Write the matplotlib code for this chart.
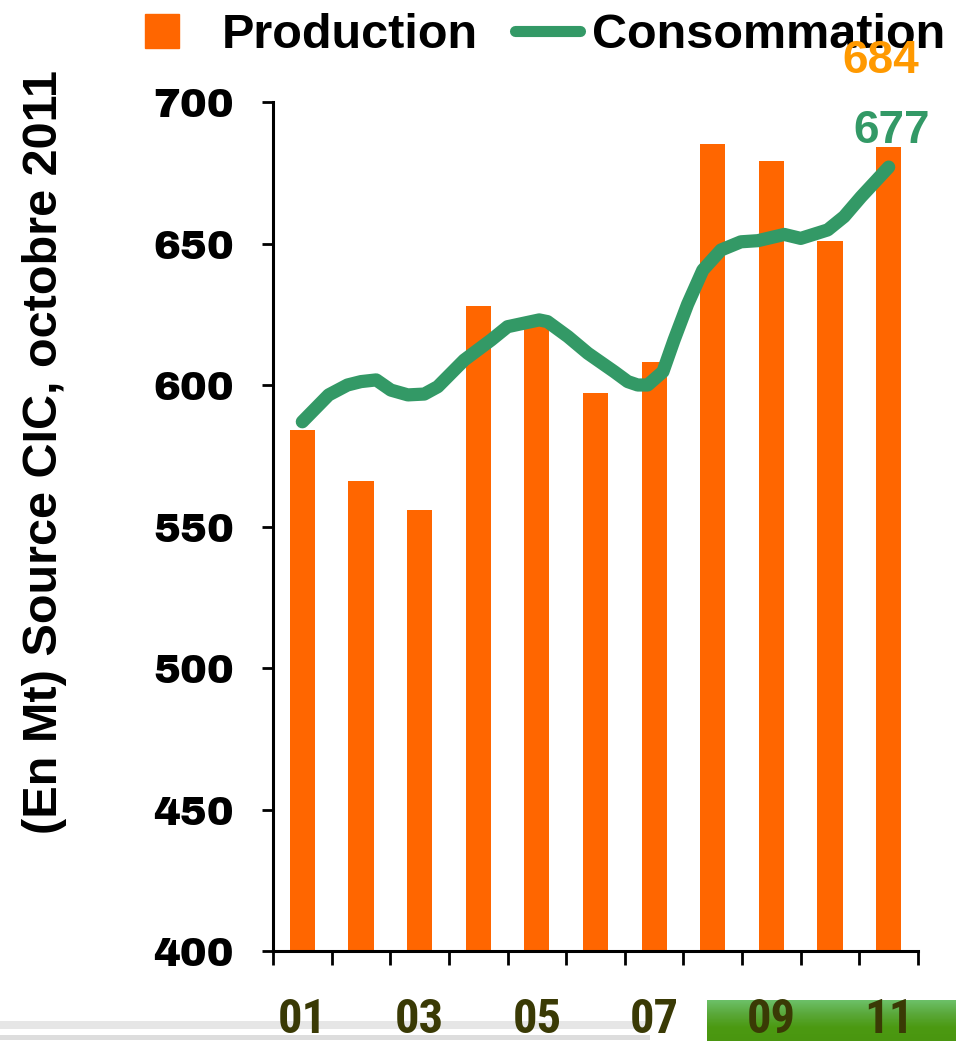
import matplotlib
matplotlib.use("Agg")
import matplotlib.pyplot as plt
import numpy as np
from matplotlib.patches import Rectangle
from matplotlib.lines import Line2D
from matplotlib.legend_handler import HandlerPatch
from matplotlib.colors import LinearSegmentedColormap

# ---- data ----
years = ["01", "02", "03", "04", "05", "06", "07", "08", "09", "10", "11"]
production = [584, 566, 556, 628, 622, 597, 608, 685, 679, 651, 684]

conso_year = [2001.00, 2001.45, 2001.77, 2002.00, 2002.26, 2002.51, 2002.80,
              2003.08, 2003.31, 2003.76, 2004.22, 2004.50, 2005.04, 2005.18,
              2005.53, 2005.87, 2006.32, 2006.55, 2006.72, 2006.89, 2007.15,
              2007.34, 2007.57, 2007.83, 2008.14, 2008.48, 2008.77, 2009.22,
              2009.50, 2009.96, 2010.24, 2010.53, 2011.00]
consommation = [587, 596.5, 600, 601.2, 601.8, 598.2, 596.5,
                596.8, 599.4, 608.8, 615.9, 620.6, 623, 622.4,
                617.1, 611.2, 604.7, 601.2, 600, 600, 604.7,
                615.9, 628.5, 640.6, 647.7, 650.6, 651, 653.2,
                651.8, 654.8, 659.5, 666.5, 677]
label_prod = "684"
label_conso = "677"
yticks = [400, 450, 500, 550, 600, 650, 700]

ORANGE = "#FF6600"
GREEN = "#339966"
LABEL_ORANGE = "#FF9900"
XTICK_COLOR = "#3A3A05"

NARROW = ["Roboto Condensed", "Archivo Narrow", "Liberation Sans", "DejaVu Sans"]
ARIAL = ["Liberation Sans", "DejaVu Sans"]
BLACK = ["Archivo Black", "DejaVu Sans"]

W, H = 956, 1041
fig = plt.figure(figsize=(W / 100, H / 100), dpi=100)
fig.patch.set_facecolor("white")

# bottom decorations (slide background remnants)
deco = fig.add_axes([707 / W, 0, 1 - 707 / W, 41 / H], zorder=-2)
grad = np.linspace(0, 1, 50).reshape(-1, 1)
cmap = LinearSegmentedColormap.from_list("g", ["#6cc068", "#5aa83a", "#4c9a12", "#4a9610"])
deco.imshow(grad, aspect="auto", cmap=cmap, extent=[0, 1, 0, 1])
deco.set_axis_off()
gray = fig.add_axes([0, 0, 650 / W, 24 / H], zorder=-2)
gray.set_xlim(0, 1)
gray.set_ylim(0, 1)
gray.add_patch(Rectangle((0, 0.5), 1, 0.35, color="#e6e6e6", lw=0))
gray.add_patch(Rectangle((0, 0.05), 1, 0.2, color="#dddddd", lw=0))
gray.set_axis_off()

ax = fig.add_axes([273 / W, 1 - 951 / H, (918 - 273) / W, (951 - 102) / H])
x = np.arange(len(years))
ax.bar(x, production, width=0.43, color=ORANGE, zorder=2, label="Production")
cx = np.array(conso_year) - 2001
ax.plot(cx, consommation, color=GREEN, lw=9.5, solid_capstyle="round",
        solid_joinstyle="round", zorder=3, label="Consommation")

ax.set_xlim(-0.5, len(years) - 0.5)
ax.set_ylim(400, 700)

for s in ["top", "right"]:
    ax.spines[s].set_visible(False)
for s in ["left", "bottom"]:
    ax.spines[s].set_linewidth(2.2)

ax.set_yticks(yticks)
ax.set_yticklabels([str(v) for v in yticks], fontfamily=BLACK, fontsize=29)
ax.tick_params(axis="y", direction="out", length=8, width=2, pad=20)

ax.set_xticks(np.arange(-0.5, len(years)), minor=False)
ax.set_xticklabels([])
ax.tick_params(axis="x", which="major", direction="out", length=10, width=2)
ax.set_xticks(x[::2], minor=True)
ax.set_xticklabels([years[i] for i in x[::2]], minor=True, fontfamily=NARROW,
                   fontweight="bold", fontsize=35, color=XTICK_COLOR)
ax.tick_params(axis="x", which="minor", length=0, pad=33)

ax.annotate(label_prod, xy=(x[-1], production[-1]), xytext=(-6, 62),
            textcoords="offset points", ha="center", va="center",
            fontfamily=ARIAL, fontweight="bold", fontsize=33,
            color=LABEL_ORANGE, annotation_clip=False, zorder=10)
ax.annotate(label_conso, xy=(cx[-1], consommation[-1]), xytext=(2, 26),
            textcoords="offset points", ha="center", va="center",
            fontfamily=ARIAL, fontweight="bold", fontsize=33,
            color=GREEN, annotation_clip=False, zorder=10)

fig.text(45 / W, 1 - 452 / H, "(En Mt) Source CIC, octobre 2011", rotation=90,
         ha="center", va="center", fontfamily=ARIAL, fontweight="bold",
         fontsize=35)


def square_patch(legend, orig_handle, xdescent, ydescent, width, height, fontsize):
    side = height
    return Rectangle((-xdescent, -ydescent + (height - side) / 2), side, side)


handles = [Rectangle((0, 0), 1, 1, color=ORANGE),
           Line2D([0], [0], color=GREEN, lw=8, solid_capstyle="round")]
leg = ax.legend(handles, ["Production", "Consommation"], loc="upper center",
                bbox_to_anchor=(545 / W, 1.0 - 8 / H), bbox_transform=fig.transFigure,
                ncol=2, frameon=False,
                prop={"family": ARIAL, "weight": "bold", "size": 35},
                handlelength=1.34, handleheight=0.7, handletextpad=0.25,
                columnspacing=0.76, borderaxespad=0.0, borderpad=0.1,
                handler_map={Rectangle: HandlerPatch(patch_func=square_patch)})
leg.set_zorder(5)

fig.savefig("out.png", dpi=100)
